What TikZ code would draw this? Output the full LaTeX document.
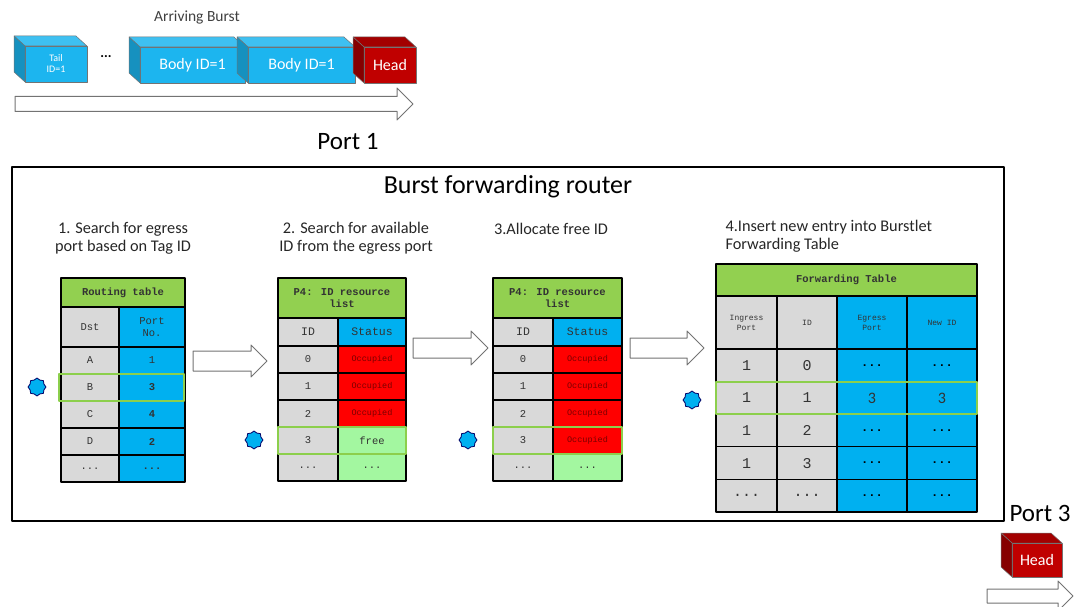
\documentclass[tikz,border=0pt]{standalone}
\usepackage{fontspec}
\setmainfont{Carlito}
\newfontfamily\tabfont{Liberation Mono}
\usetikzlibrary{shapes.geometric}

\definecolor{burstblue}{HTML}{1CB5EF}
\definecolor{cellblue}{HTML}{00B0F0}
\definecolor{cellgray}{HTML}{D9D9D9}
\definecolor{headgreen}{HTML}{92D050}
\definecolor{freegreen}{HTML}{A3F7A0}
\definecolor{occred}{HTML}{FF0000}
\definecolor{occtext}{HTML}{7A0000}
\definecolor{headred}{HTML}{C00000}
\definecolor{hiliteg}{HTML}{8CCF4C}

\tikzset{
  cellline/.style={draw=black, line width=1.1pt},
  celltext/.style={font=\tabfont\fontsize{10.5}{12}\selectfont, text=black!80, align=center, inner sep=0pt},
  smallhead/.style={font=\tabfont\fontsize{8}{10}\selectfont},
  bighead/.style={font=\tabfont\fontsize{11.5}{13}\selectfont},
  hilite/.style={draw=hiliteg, line width=2.6pt},
  blockarr/.style={draw=black!55, line width=1pt, fill=white},
  cubeline/.style={draw=black!55, line width=0.5pt},
  cubetext/.style={text=white, align=center, inner sep=0pt, font=\fontsize{16}{17}\selectfont},
  marker/.style={star, star points=8, star point ratio=1.2, minimum size=18pt, inner sep=0pt,
    fill=cellblue, draw=black!60!blue, line width=0.8pt},
  steplabel/.style={font=\fontsize{16.3}{18}\selectfont, align=center, text=black!85},
  portlabel/.style={font=\fontsize{25}{27}\selectfont},
}

% table cell: [options], name, x1, y1, x2, y2, fill, text
\newcommand{\tcell}[8][]{%
  \draw[cellline, fill=#7] (#3,#4) rectangle (#5,#6);
  \node[celltext, #1] (#2) at ({(#3+#5)/2},{(#4+#6)/2}) {#8};}
% 3d burst block: [options], name, x1, y1, x2, y2, front, top, side, text
\newcommand{\burstcube}[9][]{%
  \fill[#8] (#3,#4) -- (#5,#4) -- ++(-11,-10) -- ({#3-11},{#4-10}) -- cycle;
  \draw[cubeline] (#3,#4) -- (#5,#4) -- ++(-11,-10) -- ({#3-11},{#4-10}) -- cycle;
  \draw[cubeline, fill=#7] (#3,#4) rectangle (#5,#6);
  \burstside{#3}{#4}{#6}{#9}
  \node[cubetext, #1] (#2) at ({(#3+#5)/2},{(#4+#6)/2})}
\newcommand{\burstside}[4]{%
  \draw[cubeline, fill=#4] (#1,#2) -- ({#1-11},{#2-10}) -- ({#1-11},{#3-10}) -- (#1,#3) -- cycle;}
% hollow arrow: x start, x tip, y centre, half shaft, half head
\newcommand{\hollowarrow}[5]{%
  \draw[blockarr] (#1,{#3-#4}) -- ({#2-#5},{#3-#4}) -- ({#2-#5},{#3-#5}) -- (#2,#3)
    -- ({#2-#5},{#3+#5}) -- ({#2-#5},{#3+#4}) -- (#1,{#3+#4}) -- cycle;}
\newcommand{\celldots}{...}
\newcommand{\occtext}{{\fontsize{8.5}{9}\selectfont\color{occtext}Occupied}}
\newcommand{\fatdots}{{\bfseries\fontsize{12}{13}\selectfont\color{black}...}}

\begin{document}
\begin{tikzpicture}[x=1pt, y=-1pt, line join=round]
\useasboundingbox (0,0) rectangle (1077,607);

% arriving burst
\node[font=\fontsize{15.5}{17}\selectfont, text=black!75] (arriving) at (197,18) {Arriving Burst};
\burstcube[font=\fontsize{10}{11}\selectfont]{tail}{25}{46}{87}{82}{burstblue}{burstblue!85!white}{burstblue!80!black} {Tail\\ID=1};
\node[font=\bfseries\fontsize{14}{15}\selectfont] (gap) at (106,57) {...};
\burstcube{body1}{140}{47}{245}{83}{burstblue}{burstblue!85!white}{burstblue!80!black} {Body ID=1};
\burstcube{body2}{248}{47}{355}{83}{burstblue}{burstblue!85!white}{burstblue!80!black} {Body ID=1};
\burstcube{head1}{364}{47}{416}{83}{headred}{headred!85!black}{headred!70!black} {Head};
\hollowarrow{15}{413}{104}{7.5}{16}
\node[portlabel] (port1) at (348,142) {Port 1};

% router
\draw[line width=1.8pt] (12,167) rectangle (1004,521);
\node[font=\fontsize{26}{28}\selectfont] (router) at (508,187) {Burst forwarding router};
\node[steplabel] (step1) at (123,238) {1. Search for egress\\port based on Tag ID};
\node[steplabel] (step2) at (356,238) {2. Search for available\\ID from the egress port};
\node[steplabel] (step3) at (551,229) {3.Allocate free ID};
\node[steplabel, align=left, anchor=west] (step4) at (722,236) {4.Insert new entry into Burstlet\\Forwarding Table};

% routing table
\tcell{rt-head}{61}{278}{185}{307}{headgreen}{\textbf{Routing table}}
\tcell{rt-dst}{61}{307}{119}{347}{cellgray}{Dst}
\tcell{rt-port}{119}{307}{185}{347}{cellblue}{Port\\No.}
\foreach \dst/\port [count=\i from 0] in {A/1, B/\textbf{3}, C/\textbf{4}, D/\textbf{2}, \celldots/\textbf{\celldots}} {
  \pgfmathsetmacro{\ya}{347+27*\i}
  \pgfmathsetmacro{\yb}{\ya+27}
  \tcell{rt-d\i}{61}{\ya}{119}{\yb}{cellgray}{\dst}
  \tcell{rt-p\i}{119}{\ya}{185}{\yb}{cellblue}{\port}
}
\draw[hilite] (59,374) rectangle (184,401);
\node[marker] (mark1) at (37,387) {};
\hollowarrow{193}{267}{361}{10}{16}

% ID resource lists
\foreach \xa/\xm/\xb/\tb in {278/338/406/idl, 493/553/622/ida} {
  \tcell{\tb-head}{\xa}{278}{\xb}{318}{headgreen}{\textbf{P4: ID resource}\\\textbf{list}}
  \tcell[bighead]{\tb-id}{\xa}{318}{\xm}{346}{cellgray}{ID}
  \tcell[bighead]{\tb-st}{\xm}{318}{\xb}{346}{cellblue}{Status}
  \foreach \id [count=\i from 0] in {0, 1, 2} {
    \pgfmathsetmacro{\ya}{346+27*\i}
    \pgfmathsetmacro{\yb}{\ya+27}
    \tcell{\tb-i\i}{\xa}{\ya}{\xm}{\yb}{cellgray}{\id}
    \tcell{\tb-s\i}{\xm}{\ya}{\xb}{\yb}{occred}{\occtext}
  }
  \tcell{\tb-i3}{\xa}{427}{\xm}{454}{cellgray}{3}
  \tcell{\tb-i4}{\xa}{454}{\xm}{481}{cellgray}{\celldots}
  \tcell{\tb-s4}{\xm}{454}{\xb}{481}{freegreen}{\celldots}
}
\tcell{idl-s3}{338}{427}{406}{454}{freegreen}{free}
\tcell{ida-s3}{553}{427}{622}{454}{occred}{\occtext}
\draw[hilite] (278,427) rectangle (406,454);
\draw[hilite] (493,427) rectangle (622,454);
\node[marker] (mark2) at (254,440) {};
\node[marker] (mark3) at (468,440) {};
\hollowarrow{413}{488}{348}{10}{17}
\hollowarrow{630}{704}{348}{10}{17}

% forwarding table
\tcell{ft-head}{716}{264}{977}{296}{headgreen}{\textbf{Forwarding Table}}
\tcell[smallhead]{ft-in}{716}{296}{777}{349}{cellgray}{Ingress\\Port}
\tcell[smallhead]{ft-id}{777}{296}{837}{349}{cellgray}{ID}
\tcell[smallhead]{ft-eg}{837}{296}{907}{349}{cellblue}{Egress\\Port}
\tcell[smallhead]{ft-new}{907}{296}{977}{349}{cellblue}{New ID}
\foreach \ing/\fid/\egr/\nid [count=\i from 0] in {1/0/\fatdots/\fatdots, 1/1/\rmfamily 3/\rmfamily 3,
    1/2/\fatdots/\fatdots, 1/3/\fatdots/\fatdots, \celldots/\celldots/\fatdots/\fatdots} {
  \pgfmathsetmacro{\ya}{349+32.6*\i}
  \pgfmathsetmacro{\yb}{\ya+32.6}
  \tcell[font=\tabfont\fontsize{15}{16}\selectfont]{ft-a\i}{716}{\ya}{777}{\yb}{cellgray}{\ing}
  \tcell[font=\tabfont\fontsize{15}{16}\selectfont]{ft-b\i}{777}{\ya}{837}{\yb}{cellgray}{\fid}
  \tcell[font=\tabfont\fontsize{16}{17}\selectfont]{ft-c\i}{837}{\ya}{907}{\yb}{cellblue}{\egr}
  \tcell[font=\tabfont\fontsize{16}{17}\selectfont]{ft-d\i}{907}{\ya}{977}{\yb}{cellblue}{\nid}
}
\draw[hilite] (716,382) rectangle (977,414);
\node[marker] (mark4) at (692,400) {};

% departing head
\node[portlabel] (port3) at (1040,513) {Port 3};
\burstcube{head3}{1012}{543}{1062}{577}{headred}{headred!85!black}{headred!70!black} {Head};
\hollowarrow{987}{1073}{596}{7}{15}
\end{tikzpicture}
\end{document}
